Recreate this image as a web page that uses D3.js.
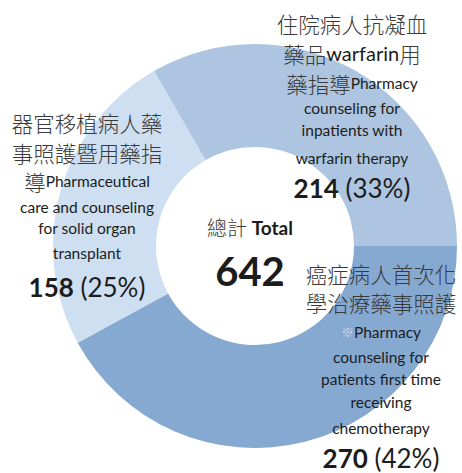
<!DOCTYPE html>
<html>
<head>
<meta charset="utf-8">
<script src="https://cdn.jsdelivr.net/npm/d3@7"></script>
<style>
  body { margin: 0; background: #fff; }
  text { font-family: Lato, "Noto Sans CJK TC", sans-serif; fill: #1c1c1c; }
  .cjk { font-family: "Noto Sans CJK TC", sans-serif; font-size: 21.5px; fill: #3a3a3a; font-weight: 300; }
  .en { font-size: 15.5px; }
  .en.big { font-size: 20px; }
  .num { font-size: 26px; font-weight: bold; }
  .pct { font-size: 26px; }
  .mark { fill: #d8d8d8; font-size: 13px; }
</style>
</head>
<body>
<div id="chart"></div>
<script>
// slice data, in drawing order (clockwise from the upper-right)
const categories = ['warfarin', 'chemotherapy', 'transplant'];
const values = [214, 270, 158];
const percents = ['33%', '42%', '25%'];
const colors = ['#adc5e1', '#86a9d2', '#cddff0'];
const total = 642;

// label lines: each line is a list of [text, class] pieces
const labelLines = {
    warfarin: [
        [['住院病人抗凝血', 'cjk']],
        [['藥品', 'cjk'], ['warfarin', 'en big'], ['用', 'cjk']],
        [['藥指導', 'cjk'], ['Pharmacy', 'en']],
        [['counseling for', 'en']],
        [['inpatients  with', 'en']],
        [['warfarin therapy', 'en']]
    ],
    transplant: [
        [['器官移植病人藥', 'cjk']],
        [['事照護暨用藥指', 'cjk']],
        [['導', 'cjk'], ['Pharmaceutical', 'en']],
        [['care and counseling', 'en']],
        [['for solid organ', 'en']],
        [['transplant', 'en']]
    ],
    chemotherapy: [
        [['癌症病人首次化', 'cjk']],
        [['學治療藥事照護', 'cjk']],
        [['※', 'mark'], ['Pharmacy', 'en']],
        [['counseling for', 'en']],
        [['patients  first time', 'en']],
        [['receiving', 'en']],
        [['chemotherapy', 'en']]
    ]
};

const width = 462, height = 473;
const cx = 255, cy = 246;
const outerR = 202, innerR = 99;

const svg = d3.select('#chart').append('svg')
    .attr('width', width)
    .attr('height', height);

const pie = d3.pie()
    .sort(null)
    .startAngle(-Math.PI / 6)
    .endAngle(2 * Math.PI - Math.PI / 6);

const arc = d3.arc().innerRadius(innerR).outerRadius(outerR);

const donut = svg.append('g').attr('transform', `translate(${cx},${cy})`);
donut.selectAll('path')
    .data(pie(values))
    .join('path')
    .attr('d', arc)
    .attr('fill', (d, i) => colors[i]);

// where each label block sits: centre x and the line centres
const layout = {
    warfarin: { x: 352, ys: [23, 53, 83, 108, 130, 158], valueY: 188 },
    transplant: { x: 87, ys: [122, 152, 181, 207, 228, 253], valueY: 287 },
    chemotherapy: { x: 381, ys: [273, 302, 332, 357, 379, 402, 428], valueY: 458 }
};

categories.forEach((cat, i) => {
    const pos = layout[cat];
    labelLines[cat].forEach((line, j) => {
        const t = svg.append('text')
            .attr('x', pos.x)
            .attr('y', pos.ys[j])
            .attr('text-anchor', 'middle')
            .attr('dominant-baseline', 'central');
        line.forEach(([str, cls]) => {
            t.append('tspan').attr('class', cls).text(str);
        });
    });
    const v = svg.append('text')
        .attr('x', pos.x)
        .attr('y', pos.valueY)
        .attr('text-anchor', 'middle')
        .attr('dominant-baseline', 'central');
    v.append('tspan').attr('class', 'num').text(values[i]);
    v.append('tspan').attr('class', 'pct').text(` (${percents[i]})`);
});

// centre total
const c1 = svg.append('text')
    .attr('x', 250).attr('y', 227)
    .attr('text-anchor', 'middle')
    .attr('dominant-baseline', 'central');
c1.append('tspan').attr('class', 'cjk').style('font-size', '20px').text('總計');
c1.append('tspan').style('font-size', '19px').style('font-weight', 'bold').text(' Total');

svg.append('text')
    .attr('x', 250).attr('y', 271)
    .attr('text-anchor', 'middle')
    .attr('dominant-baseline', 'central')
    .style('font-size', '40px')
    .style('font-weight', 'bold')
    .text(total);
</script>
</body>
</html>
